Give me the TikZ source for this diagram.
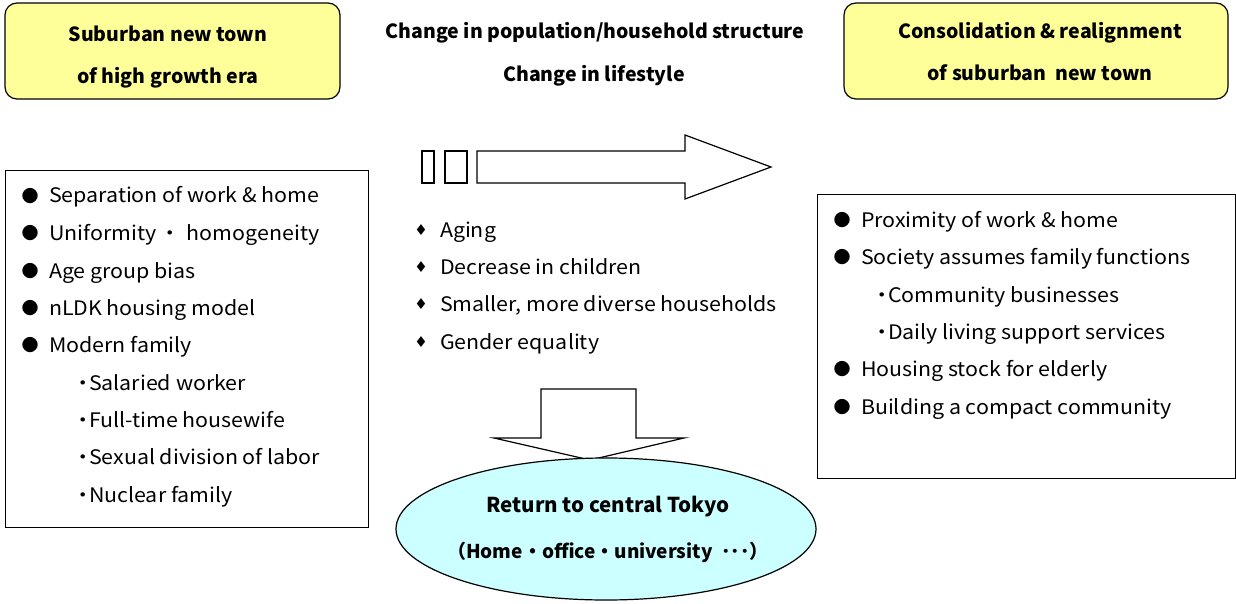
\documentclass[tikz,border=0pt]{standalone}
\usepackage{fontspec}
\setmainfont{Noto Sans CJK JP}
\newfontfamily\regfont[FakeStretch=1.07]{Noto Sans CJK JP}
\newfontfamily\dejavu{DejaVu Sans}
\usetikzlibrary{shapes.geometric}
\definecolor{hdryellow}{HTML}{FFFF99}
\definecolor{ellcyan}{HTML}{CCFFFF}
\newcommand{\zdot}{\makebox[0pt][c]{・}}
\begin{document}
\begin{tikzpicture}[x=1pt,y=-1pt,
  every node/.style={inner sep=0pt, outer sep=0pt},
  hdrbox/.style={draw=black, line width=1.2pt, fill=hdryellow, rounded corners=12pt},
  listbox/.style={draw=black, line width=1pt},
  hdrtxt/.style={anchor=base, font=\fontsize{19.5}{22}\selectfont\bfseries},
  itemtxt/.style={anchor=base west, font=\regfont\fontsize{20}{22}\selectfont},
  bulletmark/.style={anchor=center, font=\fontsize{17}{20}\selectfont},
  diamark/.style={anchor=center, font=\dejavu\fontsize{15}{16}\selectfont},
  shp/.style={draw=black, line width=1.2pt, fill=white}]
\useasboundingbox (0,0) rectangle (1236,604);
% header boxes
\node[hdrbox, minimum width=335pt, minimum height=96pt] (hl) at (172.5,51) {};
\node[hdrtxt] (hl1) at (168,42) {Suburban new town};
\node[hdrtxt] (hl2) at (168,84) {of high growth era};
\node[hdrbox, minimum width=384pt, minimum height=96pt] (hr) at (1036,51) {};
\node[hdrtxt] (hr1) at (1040,39) {Consolidation \& realignment};
\node[hdrtxt] (hr2) at (1040,81) {of suburban\ \ new town};
% middle title
\node[hdrtxt] (mt1) at (595,39) {Change in population/household structure};
\node[hdrtxt] (mt2) at (594,82) {Change in lifestyle};
% right arrow
\draw[shp] (422,151) rectangle (434,183);
\draw[shp] (445,151) rectangle (467,183);
\draw[shp] (477,151) -- (685,151) -- (685,135) -- (771,167) -- (685,199) -- (685,183) -- (477,183) -- cycle;
% left box
\node[listbox, minimum width=363pt, minimum height=356pt] (lb) at (186.5,349) {};
\foreach \y/\t in {196/Separation of work \& home, 271/Age group bias, 308/nLDK housing model, 345/Modern family}{
  \node[bulletmark] at (30,\y) {●};
  \node[itemtxt] at (49,\y+7) {\t};
}
\node[bulletmark] at (30,233) {●};
\node[itemtxt] (uni) at (49,240) {\makebox[121pt][l]{Uniformity}\zdot\hspace{17pt}homogeneity};
\foreach \y/\t in {383/Salaried worker, 420/Full-time housewife, 457/Sexual division of labor, 495/Nuclear family}{
  \node[itemtxt] at (83,\y+7) {\zdot\hspace{6pt}\t};
}
% middle list
\foreach \y/\t in {230/Aging, 267/Decrease in children, 304/{Smaller, more diverse households}, 342/Gender equality}{
  \node[diamark] at (421,\y) {♦};
  \node[itemtxt] at (440,\y+7) {\t};
}
% right box
\node[listbox, minimum width=418pt, minimum height=283pt] (rb) at (1026,336.5) {};
\foreach \y/\t in {220/Proximity of work \& home, 257/Society assumes family functions, 369/Housing stock for elderly, 407/Building a compact community}{
  \node[bulletmark] at (842,\y) {●};
  \node[itemtxt] at (861,\y+7) {\t};
}
\foreach \y/\t in {295/Community businesses, 332/Daily living support services}{
  \node[itemtxt] at (882,\y+7) {\zdot\hspace{6pt}\t};
}
% down arrow
\draw[shp] (541,438) -- (541,389) -- (636,389) -- (636,438) -- (684,438) -- (590,460) -- (494,438) -- cycle;
% ellipse
\node[ellipse, draw=black, line width=1.2pt, fill=ellcyan, minimum width=420pt, minimum height=142pt] (el) at (606,529) {};
\node[hdrtxt, font=\fontsize{20.5}{22}\selectfont\bfseries] (el1) at (608,512) {Return to central Tokyo};
\node[hdrtxt, font=\fontsize{19}{22}\selectfont\bfseries] (el2) at (608,558) {（Home・office・university\ \ ･･･）};
\end{tikzpicture}
\end{document}
